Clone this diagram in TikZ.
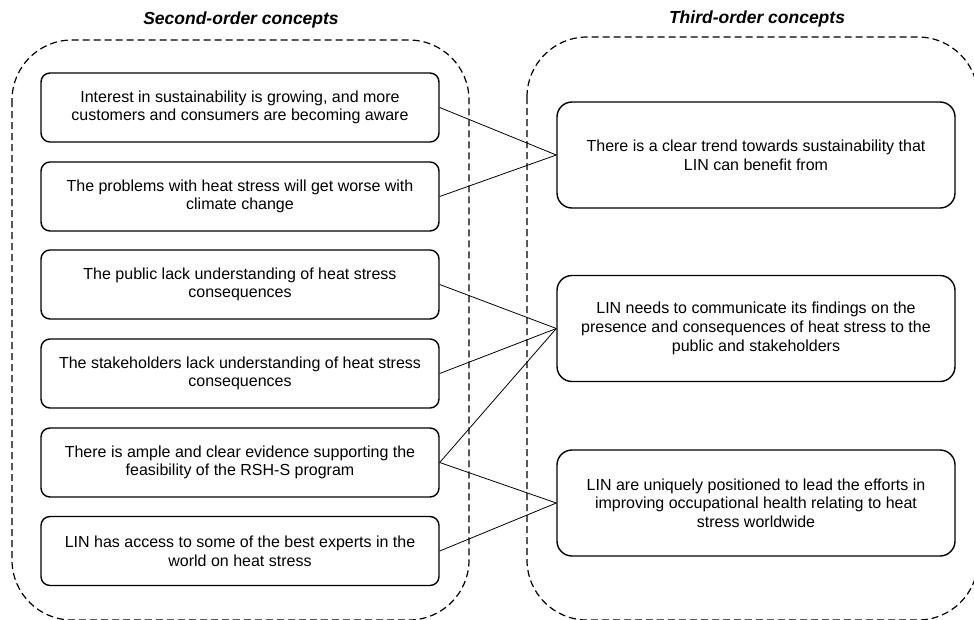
\documentclass[tikz,border=0pt]{standalone}
\usepackage{fontspec}
\setmainfont{Liberation Sans}
\begin{document}
\begin{tikzpicture}[x=1pt,y=-1pt,
  lbox/.style={draw=black,line width=1.4pt,rounded corners=9pt,minimum width=398pt,minimum height=69pt,align=center,inner sep=0pt,font=\fontsize{16}{18.7}\selectfont,text=black},
  rbox/.style={draw=black,line width=1.4pt,rounded corners=15pt,minimum width=398pt,minimum height=106pt,align=center,inner sep=0pt,font=\fontsize{16}{18.7}\selectfont,text=black},
  container/.style={draw=black,line width=1.2pt,dash pattern=on 7pt off 4pt,rounded corners=60pt},
  ttl/.style={font=\fontsize{17.5}{20}\selectfont\bfseries\itshape,inner sep=0pt},
  link/.style={draw=black,line width=0.8pt}]
\useasboundingbox (0,0) rectangle (974,619);
\fill[white] (0,0) rectangle (974,619);
% containers
\draw[container] (12,40) rectangle (469,620);
\draw[container] (527,37) rectangle (978,620);
% titles
\node[ttl] (t1) at (241,20) {Second-order concepts};
\node[ttl] (t2) at (757,19) {Third-order concepts};
% left boxes
\node[lbox] (l1) at (240,107.5) {Interest in sustainability is growing, and more\\customers and consumers are becoming aware};
\node[lbox] (l2) at (240,196.5) {The problems with heat stress will get worse with\\climate change};
\node[lbox] (l3) at (240,284.5) {The public lack understanding of heat stress\\consequences};
\node[lbox] (l4) at (240,373.5) {The stakeholders lack understanding of heat stress\\consequences};
\node[lbox] (l5) at (240,462.5) {There is ample and clear evidence supporting the\\feasibility of the RSH-S program};
\node[lbox] (l6) at (240,551) {LIN has access to some of the best experts in the\\world on heat stress};
% right boxes
\node[rbox] (r1) at (756,155) {There is a clear trend towards sustainability that\\LIN can benefit from};
\node[rbox] (r2) at (756,328.5) {LIN needs to communicate its findings on the\\presence and consequences of heat stress to the\\public and stakeholders};
\node[rbox] (r3) at (756,503) {LIN are uniquely positioned to lead the efforts in\\improving occupational health relating to heat\\stress worldwide};
% links
\draw[link] (l1.east) -- (r1.west);
\draw[link] (l2.east) -- (r1.west);
\draw[link] (l3.east) -- (r2.west);
\draw[link] (l4.east) -- (r2.west);
\draw[link] (l5.east) -- (r2.west);
\draw[link] (l5.east) -- (r3.west);
\draw[link] (l6.east) -- (r3.west);
\end{tikzpicture}
\end{document}
